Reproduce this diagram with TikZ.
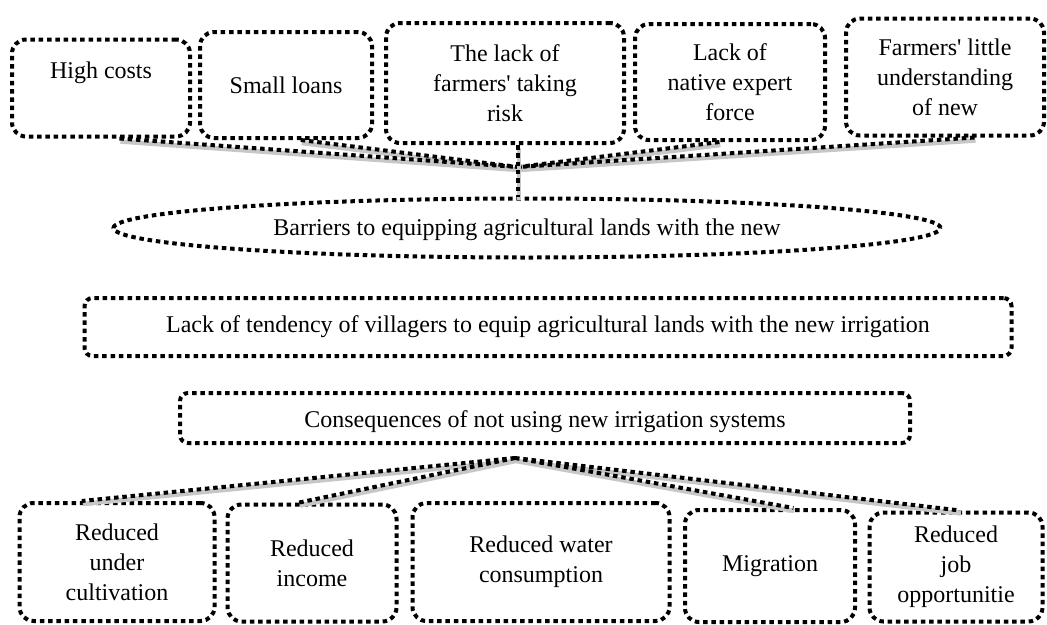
\documentclass[tikz,border=0pt]{standalone}
\usepackage{fontspec}
\setmainfont{Liberation Serif}
\usetikzlibrary{shapes.geometric}
\tikzset{
    dots/.style={line width=4pt, dash pattern=on 4.5pt off 3.8pt},
    box/.style={dots, draw, rounded corners=14pt, align=center, inner sep=0pt,
        font=\fontsize{24}{30}\selectfont},
    oval/.style={dots, draw, ellipse, inner sep=0pt, font=\fontsize{24}{28}\selectfont},
    link/.style={dots, preaction={draw=black!22, solid, line width=4.5pt,
        transform canvas={shift={(1pt,-3pt)}}}},
}
\begin{document}
\begin{tikzpicture}[x=1pt, y=-1pt]
        \useasboundingbox (0,0) rectangle (1047,624);
        % Ursachen oben
        \node[box, minimum width=178, minimum height=97, text depth=36pt] (cost) at (101,88) {High costs};
        \node[box, minimum width=172, minimum height=106] (loan) at (286,85) {Small loans};
        \node[box, minimum width=238, minimum height=120] (risk) at (505,83) {The lack of\\farmers\textquotesingle{} taking\\risk};
        \node[box, minimum width=190, minimum height=116] (expert) at (730,82) {Lack of\\native expert\\force};
        \node[box, minimum width=198, minimum height=117] (newtech) at (945,77) {Farmers\textquotesingle{} little\\understanding\\of new};
        % Hindernisse und Folgen
        \node[oval, minimum width=827, minimum height=59, text height=21pt] (barrier) at (527,228)
            {Barriers to equipping agricultural lands with the new};
        \node[box, rounded corners=8pt, font=\fontsize{24}{28}\selectfont,
            minimum width=927, minimum height=58] (tendency) at (548,327)
            {Lack of tendency of villagers to equip agricultural lands with the new irrigation};
        \node[box, rounded corners=8pt, font=\fontsize{24}{28}\selectfont,
            minimum width=730, minimum height=50, text height=24pt] (conseq) at (545,418)
            {Consequences of not using new irrigation systems};
        % Auswirkungen unten
        \node[box, minimum width=195, minimum height=118] (cult) at (117,562) {Reduced\\under\\cultivation};
        \node[box, minimum width=169, minimum height=117] (income) at (312,563) {Reduced\\income};
        \node[box, minimum width=257, minimum height=118] (water) at (541,562) {Reduced water\\consumption};
        \node[box, minimum width=170, minimum height=112] (migr) at (770,566) {Migration};
        \node[box, minimum width=173, minimum height=109] (job) at (956,567) {Reduced\\job\\opportunitie};
        % Verbindungen oben
        \coordinate (hub) at (518,167);
        \draw[link]
        (cost.-70) -- (hub)
        (loan.-75) -- (hub)
        (expert.-100) -- (hub)
        (newtech.-64) -- (hub)
        ;
        \draw[link] (hub |- risk.south) -- (hub |- barrier.north);
        % Verbindungen unten
        \coordinate (fan) at (515,458);
        \draw[link]
        (fan) -- (cult.120)
        (fan) -- (income.102)
        (fan) -- (migr.68)
        (fan) -- (job.86)
        ;
    \end{tikzpicture}
\end{document}
